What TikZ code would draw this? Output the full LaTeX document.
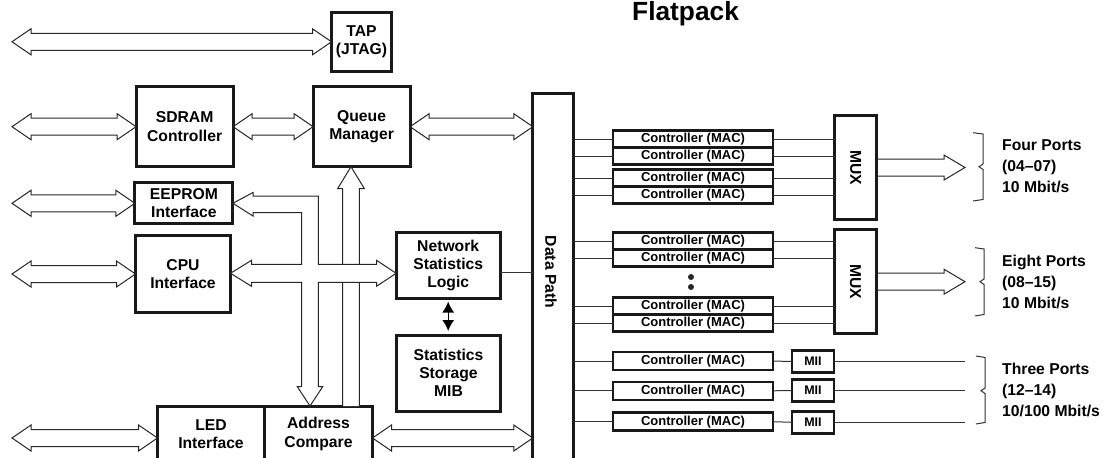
\documentclass[tikz,border=0pt]{standalone}
\usepackage{fontspec}
\setmainfont{Liberation Sans}
\usetikzlibrary{calc,arrows.meta,positioning}

\newcommand{\blkfont}{\bfseries\fontsize{15.7}{18.3}\selectfont}
\newcommand{\macfont}{\bfseries\fontsize{13}{15}\selectfont}
\newcommand{\portfont}{\bfseries\fontsize{15.7}{20.8}\selectfont}

% fat double-headed bus arrow between two points on one line
\newcommand{\dbus}[2]{\draw[bus] (#1) -- ($(#1)+(19,-13)$) -- ($(#1)+(19,-8.5)$) -- ($(#2)+(-19,-8.5)$) -- ($(#2)+(-19,-13)$) -- (#2) -- ($(#2)+(-19,13)$) -- ($(#2)+(-19,8.5)$) -- ($(#1)+(19,8.5)$) -- ($(#1)+(19,13)$) -- cycle;}
% fat single-headed bus arrow, left to right
\newcommand{\sbus}[2]{\draw[bus] ($(#1)+(0,-8.5)$) -- ($(#2)+(-21,-8.5)$) -- ($(#2)+(-21,-12.5)$) -- (#2) -- ($(#2)+(-21,12.5)$) -- ($(#2)+(-21,8.5)$) -- ($(#1)+(0,8.5)$);}

\tikzset{
  blk/.style={draw=black!90, line width=3pt, outer sep=0pt, inner sep=0pt, align=center, font=\blkfont},
  mac/.style={blk, line width=2.5pt, minimum width=160pt, minimum height=17pt, font=\macfont},
  mii/.style={blk, line width=2.5pt, minimum width=42pt, minimum height=22pt, font=\bfseries\fontsize{12.5}{14}\selectfont},
  muxbox/.style={blk, minimum width=42pt, minimum height=104pt},
  port/.style={anchor=west, align=left, inner sep=0pt, font=\portfont},
  bus/.style={draw=black!85, line width=1pt, line join=miter},
  wire/.style={draw=black!80, line width=1pt}
}

\begin{document}
\begin{tikzpicture}[x=1pt,y=-1pt]
\useasboundingbox (0,0) rectangle (1104,458);

\node[anchor=base west, inner sep=0pt, font=\bfseries\fontsize{26.3}{30}\selectfont] (title) at (632,20) {Flatpack};

% left side blocks
\node[blk, minimum width=60pt, minimum height=59pt] (tap) at (361.5,41.8) {TAP\\(JTAG)};
\node[blk, minimum width=97pt, minimum height=80pt] (sdram) at (184.6,126.7) {SDRAM\\Controller};
\node[blk, minimum width=97pt, minimum height=80pt] (queue) at (361.6,126.7) {Queue\\Manager};
\node[blk, minimum width=98pt, minimum height=41pt] (eeprom) at (183.9,203.3) {EEPROM\\Interface};
\node[blk, minimum width=95pt, minimum height=77pt] (cpu) at (183,274) {CPU\\Interface};
\node[blk, minimum width=104pt, minimum height=66pt] (nsl) at (448.2,265.5) {Network\\Statistics\\Logic};
\node[blk, minimum width=104pt, minimum height=76pt] (ssm) at (448.5,373) {Statistics\\Storage\\MIB};
\node[blk, minimum width=107pt, minimum height=56pt] (led) at (211,434) {LED\\Interface};
\node[blk, minimum width=108pt, minimum height=56pt, right=0pt of led] (addr) {Address\\Compare};

% data path
\node[blk, minimum width=41pt, minimum height=394pt] (dp) at (553.3,290) {};
\node[rotate=-90, font=\blkfont] (dplbl) at (551,272) {Data Path};

% MAC controllers
\node[mac] (mA1) at (693,139) {Controller (MAC)};
\node[mac] (mA2) at (693,156) {Controller (MAC)};
\node[mac] (mA3) at (693,178) {Controller (MAC)};
\node[mac] (mA4) at (693,195) {Controller (MAC)};
\node[mac] (mB1) at (693,241) {Controller (MAC)};
\node[mac] (mB2) at (693,258) {Controller (MAC)};
\node[mac] (mB3) at (693,306) {Controller (MAC)};
\node[mac] (mB4) at (693,323) {Controller (MAC)};
\node[mac, minimum height=18pt] (mC1) at (693,361.2) {Controller (MAC)};
\node[mac, minimum height=18pt] (mC2) at (693,390.8) {Controller (MAC)};
\node[mac, minimum height=18pt] (mC3) at (693,421.7) {Controller (MAC)};
\fill[black!85] (691,277) circle (3);
\fill[black!85] (691,287) circle (3);

\node[mii] (mii1) at (813,361.3) {MII};
\node[mii] (mii2) at (813,390.5) {MII};
\node[mii] (mii3) at (813,422.3) {MII};

\node[muxbox] (mux1) at (855.8,167.5) {};
\node[rotate=-90, font=\blkfont] (mux1lbl) at (mux1) {MUX};
\node[muxbox] (mux2) at (855.5,281.7) {};
\node[rotate=-90, font=\blkfont] (mux2lbl) at (mux2) {MUX};

% port labels
\node[port] (p4) at (1002,166.3) {Four Ports\\(04–07)\\10 Mbit/s};
\node[port] (p8) at (1002,281.7) {Eight Ports\\(08–15)\\10 Mbit/s};
\node[port] (p3) at (1002,390) {Three Ports\\(12–14)\\10/100 Mbit/s};

% free ends
\coordinate (lx) at (12,0);
\coordinate (ox) at (965,0);
\coordinate (tapIn) at (lx |- tap.west);
\coordinate (sdIn) at (lx |- sdram.west);
\coordinate (eeIn) at (lx |- eeprom.west);
\coordinate (cpuIn) at (lx |- cpu.west);
\coordinate (ledR) at ([yshift=-4pt]led.west);
\coordinate (ledIn) at (lx |- ledR);
\coordinate (addrR) at ([yshift=-4pt]addr.east);

% buses
\dbus{tapIn}{tap.west}
\dbus{sdIn}{sdram.west}
\dbus{sdram.east}{queue.west}
\dbus{queue.east}{dp.west |- queue.east}
\dbus{eeIn}{eeprom.west}
\dbus{cpuIn}{cpu.west}
\dbus{ledIn}{ledR}
\dbus{addrR}{dp.west |- addrR}
\sbus{mux1.east}{ox |- mux1.east}
\sbus{mux2.east}{ox |- mux2.east}

% address compare up to queue manager
\coordinate (upBot) at (351,0 |- addr.north);
\coordinate (upTop) at (351,0 |- queue.south);
\draw[bus, fill=white] ($(upBot)+(-8.3,0)$) -- ($(upTop)+(-8.3,22)$) -- ($(upTop)+(-13.4,22)$) -- (upTop) -- ($(upTop)+(13.4,22)$) -- ($(upTop)+(8.3,22)$) -- ($(upBot)+(8.3,0)$);

% internal bus cross
\coordinate (by) at (0,273.3);
\draw[bus, fill=white] (eeprom.east) -- (253,192.5) -- (253,196) -- (318.3,196) -- (318.3,264.3) -- (376.5,264.3) -- (376.5,260.3) -- (nsl.west |- by) -- (376.5,286.3) -- (376.5,282.3) -- (318.3,282.3) -- (318.3,386.5) -- (322.8,386.5) -- (310,406) -- (297.2,386.5) -- (301.7,386.5) -- (301.7,282.3) -- (251.5,282.3) -- (251.5,286.3) -- (cpu.east |- by) -- (251.5,260.3) -- (251.5,264.3) -- (301.7,264.3) -- (301.7,212.5) -- (253,212.5) -- (253,216) -- cycle;

% statistics link
\draw[line width=1.3pt, {Latex[length=11pt,width=12pt]}-{Latex[length=11pt,width=12pt]}, shorten <=3pt, shorten >=4pt] (nsl.south) -- (nsl.south |- ssm.north);
\coordinate (nslR) at ([yshift=-7pt]nsl.east);
\draw[wire] (nslR) -- (dp.west |- nslR);

% data path to controllers
\draw[wire] (mA1.west -| dp.east) -- (mA1.west);
\draw[wire] (mA2.west -| dp.east) -- (mA2.west);
\draw[wire] (mA3.west -| dp.east) -- (mA3.west);
\draw[wire] (mA4.west -| dp.east) -- (mA4.west);
\draw[wire] (mB1.west -| dp.east) -- (mB1.west);
\draw[wire] (mB2.west -| dp.east) -- (mB2.west);
\draw[wire] (mB3.west -| dp.east) -- (mB3.west);
\draw[wire] (mB4.west -| dp.east) -- (mB4.west);
\draw[wire] (mC1.west -| dp.east) -- (mC1.west);
\draw[wire] (mC2.west -| dp.east) -- (mC2.west);
\draw[wire] (mC3.west -| dp.east) -- (mC3.west);

% controllers to mux / mii
\draw[wire] (mA1.east) -- (mA1.east -| mux1.west);
\draw[wire] (mA2.east) -- (mA2.east -| mux1.west);
\draw[wire] (mA3.east) -- (mA3.east -| mux1.west);
\draw[wire] (mA4.east) -- (mA4.east -| mux1.west);
\draw[wire] (mB1.east) -- (mB1.east -| mux2.west);
\draw[wire] (mB2.east) -- (mB2.east -| mux2.west);
\draw[wire] (mB3.east) -- (mB3.east -| mux2.west);
\draw[wire] (mB4.east) -- (mB4.east -| mux2.west);
\draw[wire] (mC1.east) -- (mii1.west);
\draw[wire] (mC2.east) -- (mii2.west);
\draw[wire] (mC3.east) -- (mii3.west);
\draw[wire] (mii1.east) -- (ox |- mii1.east);
\draw[wire] (mii2.east) -- (ox |- mii2.east);
\draw[wire] (mii3.east) -- (ox |- mii3.east);

% brackets
\draw[wire] (973,132.7) -- (983,134) -- (983,164) -- (979,166.7) -- (983,169.5) -- (983,199.5) -- (973,201);
\draw[wire] (975,247.7) -- (984,249) -- (984,279) -- (980,281.7) -- (984,284.5) -- (984,314.5) -- (975,316);
\draw[wire] (976,356) -- (985,357.5) -- (985,388) -- (981,390.7) -- (985,393.5) -- (985,422.5) -- (976,424);
\end{tikzpicture}
\end{document}
